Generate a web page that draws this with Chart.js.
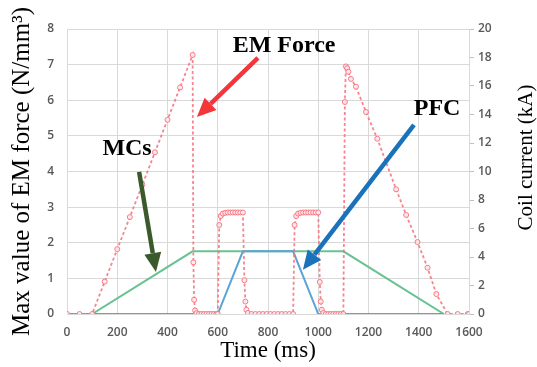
<!DOCTYPE html>
<html>
<head>
<meta charset="utf-8">
<script src="https://cdn.jsdelivr.net/npm/chart.js@4.4.0/dist/chart.umd.min.js"></script>
<style>
  html, body { margin: 0; padding: 0; background: #fff; }
</style>
</head>
<body>
<canvas id="myChart" width="537" height="367"></canvas>
<script>
// EM force (left axis, N/mm3)
const emTime = [0, 50, 100, 150, 200, 250, 300, 350, 400, 450, 500,
  503, 506, 510, 515, 525, 535, 545, 555, 565, 575, 585, 595, 600,
  606, 612, 620, 630, 640, 650, 660, 670, 680, 690, 700,
  706, 710, 714, 720, 735, 750, 765, 780, 795, 810, 825, 840, 855, 870, 885, 900,
  906, 912, 920, 930, 940, 950, 960, 970, 980, 990, 1000,
  1006, 1010, 1014, 1020, 1030, 1040, 1050, 1060, 1070, 1080, 1090, 1100,
  1106, 1110, 1115, 1120, 1130, 1150, 1190, 1235, 1310, 1350, 1395, 1435, 1470, 1515, 1555, 1595, 1600]
const emForce = [0, 0, 0, 0.91, 1.82, 2.72, 3.63, 4.54, 5.45, 6.36, 7.27,
  1.45, 0.4, 0.1, 0.02, 0, 0, 0, 0, 0, 0, 0, 0, 0,
  2.5, 2.75, 2.82, 2.84, 2.85, 2.85, 2.85, 2.85, 2.85, 2.85, 2.85,
  0.95, 0.35, 0.12, 0.03, 0, 0, 0, 0, 0, 0, 0, 0, 0, 0, 0, 0,
  2.5, 2.75, 2.82, 2.84, 2.85, 2.85, 2.85, 2.85, 2.85, 2.85, 2.85,
  0.9, 0.35, 0.12, 0.03, 0, 0, 0, 0, 0, 0, 0, 0,
  5.95, 6.95, 6.9, 6.8, 6.6, 6.38, 5.67, 4.92, 3.5, 2.78, 2.02, 1.3, 0.56, 0, 0, 0, 0]

// coil currents (right axis, kA)
const mcTime = [0, 100, 500, 1100, 1500]
const mcCurrent = [0, 0, 4.4, 4.4, 0]
const pfcTime = [0, 600, 700, 900, 1000, 1500]
const pfcCurrent = [0, 0, 4.4, 4.4, 0, 0]

// labels + arrows, in data coords (time, left axis value)
const noteText = ['EM Force', 'PFC', 'MCs']
const notePos = [[864, 7.35], [1473, 5.59], [239, 4.46]]
const arrowFrom = [[760, 7.19], [1381, 5.31], [287, 3.99]]
const arrowTo = [[517, 5.53], [939, 1.24], [354, 1.18]]
const arrowColor = ['#f2363c', '#1a72bb', '#3b5a2c']

const pairs = (xs, ys) => xs.map((x, i) => ({ x: x, y: ys[i] }))

const gridColor = '#d9d9d9'
const tickFont = { family: 'Open Sans', size: 12, weight: '600' }
const serif = 'Liberation Serif'

const annotations = {
    id: 'annotations',
    afterDatasetsDraw(chart) {
        const ctx = chart.ctx
        const xs = chart.scales.x
        const ys = chart.scales.y
        const px = (p) => [xs.getPixelForValue(p[0]), ys.getPixelForValue(p[1])]

        ctx.save()
        arrowFrom.forEach((f, i) => {
            const a = px(f)
            const b = px(arrowTo[i])
            const ang = Math.atan2(b[1] - a[1], b[0] - a[0])
            const headLen = 19
            const headW = 8.5
            const bx = b[0] - Math.cos(ang) * headLen
            const by = b[1] - Math.sin(ang) * headLen
            ctx.strokeStyle = arrowColor[i]
            ctx.fillStyle = arrowColor[i]
            ctx.lineWidth = 4.5
            ctx.beginPath()
            ctx.moveTo(a[0], a[1])
            ctx.lineTo(bx, by)
            ctx.stroke()
            ctx.beginPath()
            ctx.moveTo(b[0], b[1])
            ctx.lineTo(bx + Math.sin(ang) * headW, by - Math.cos(ang) * headW)
            ctx.lineTo(bx - Math.sin(ang) * headW, by + Math.cos(ang) * headW)
            ctx.closePath()
            ctx.fill()
        })

        ctx.fillStyle = '#000'
        ctx.font = `bold 24px "${serif}"`
        ctx.textAlign = 'center'
        ctx.textBaseline = 'alphabetic'
        noteText.forEach((t, i) => {
            const p = px(notePos[i])
            ctx.fillText(t, p[0], p[1])
        })

        // right axis title reads bottom-to-top like the left one
        const area = chart.chartArea
        ctx.translate(chart.width - 11, (area.top + area.bottom) / 2 - 14)
        ctx.rotate(-Math.PI / 2)
        ctx.font = `21px "${serif}"`
        ctx.textBaseline = 'middle'
        ctx.fillText('Coil current (kA)', 0, 0)
        ctx.restore()
    }
}

const ctx = document.getElementById('myChart').getContext('2d')

const myChart = new Chart(ctx, {
    type: 'line',
    data: {
        datasets: [{
            label: 'EM force',
            data: pairs(emTime, emForce),
            yAxisID: 'y',
            borderColor: 'rgba(247, 110, 122, 0.85)',
            borderWidth: 1.8,
            borderDash: [3, 2.5],
            pointRadius: 2.5,
            pointBorderWidth: 1,
            pointBorderColor: 'rgba(247, 110, 122, 0.9)',
            pointBackgroundColor: 'rgba(255, 235, 237, 0.9)',
            tension: 0
        }, {
            label: 'PFC',
            data: pairs(pfcTime, pfcCurrent),
            yAxisID: 'y1',
            borderColor: '#5ba3d9',
            borderWidth: 2,
            pointRadius: 0,
            tension: 0
        }, {
            label: 'MCs',
            data: pairs(mcTime, mcCurrent),
            yAxisID: 'y1',
            borderColor: '#68c293',
            borderWidth: 2,
            pointRadius: 0,
            tension: 0
        }]
    },
    options: {
        responsive: false,
        animation: false,
        devicePixelRatio: 1,
        layout: { padding: { top: 29, left: 0, right: 0, bottom: 0 } },
        plugins: {
            legend: { display: false },
            tooltip: { enabled: false }
        },
        scales: {
            x: {
                type: 'linear',
                min: 0,
                max: 1600,
                afterFit: (s) => { s.height = 53 },
                ticks: {
                    stepSize: 200, padding: 11, color: '#595959', font: tickFont, maxRotation: 0,
                    callback: (v) => String(v)
                },
                grid: { color: gridColor, drawTicks: false },
                border: { color: gridColor },
                title: {
                    display: true,
                    text: 'Time (ms)',
                    color: '#000',
                    font: { family: serif, size: 23 },
                    padding: { top: 0, bottom: 2 }
                }
            },
            y: {
                position: 'left',
                min: 0,
                max: 8,
                afterFit: (s) => { s.width = 67 },
                ticks: { stepSize: 1, padding: 13, color: '#595959', font: tickFont },
                grid: { color: gridColor, drawTicks: false },
                border: { color: gridColor },
                title: {
                    display: true,
                    text: 'Max value of EM force (N/mm³)',
                    color: '#000',
                    font: { family: serif, size: 25 },
                    padding: { top: 7, bottom: 0 }
                }
            },
            y1: {
                position: 'right',
                min: 0,
                max: 20,
                afterFit: (s) => { s.width = 68 },
                ticks: { stepSize: 2, padding: 4, color: '#595959', font: tickFont },
                grid: { drawOnChartArea: false, color: '#bfbfbf', tickLength: 5 },
                border: { color: gridColor }
            }
        }
    },
    plugins: [annotations]
})
</script>
</body>
</html>
